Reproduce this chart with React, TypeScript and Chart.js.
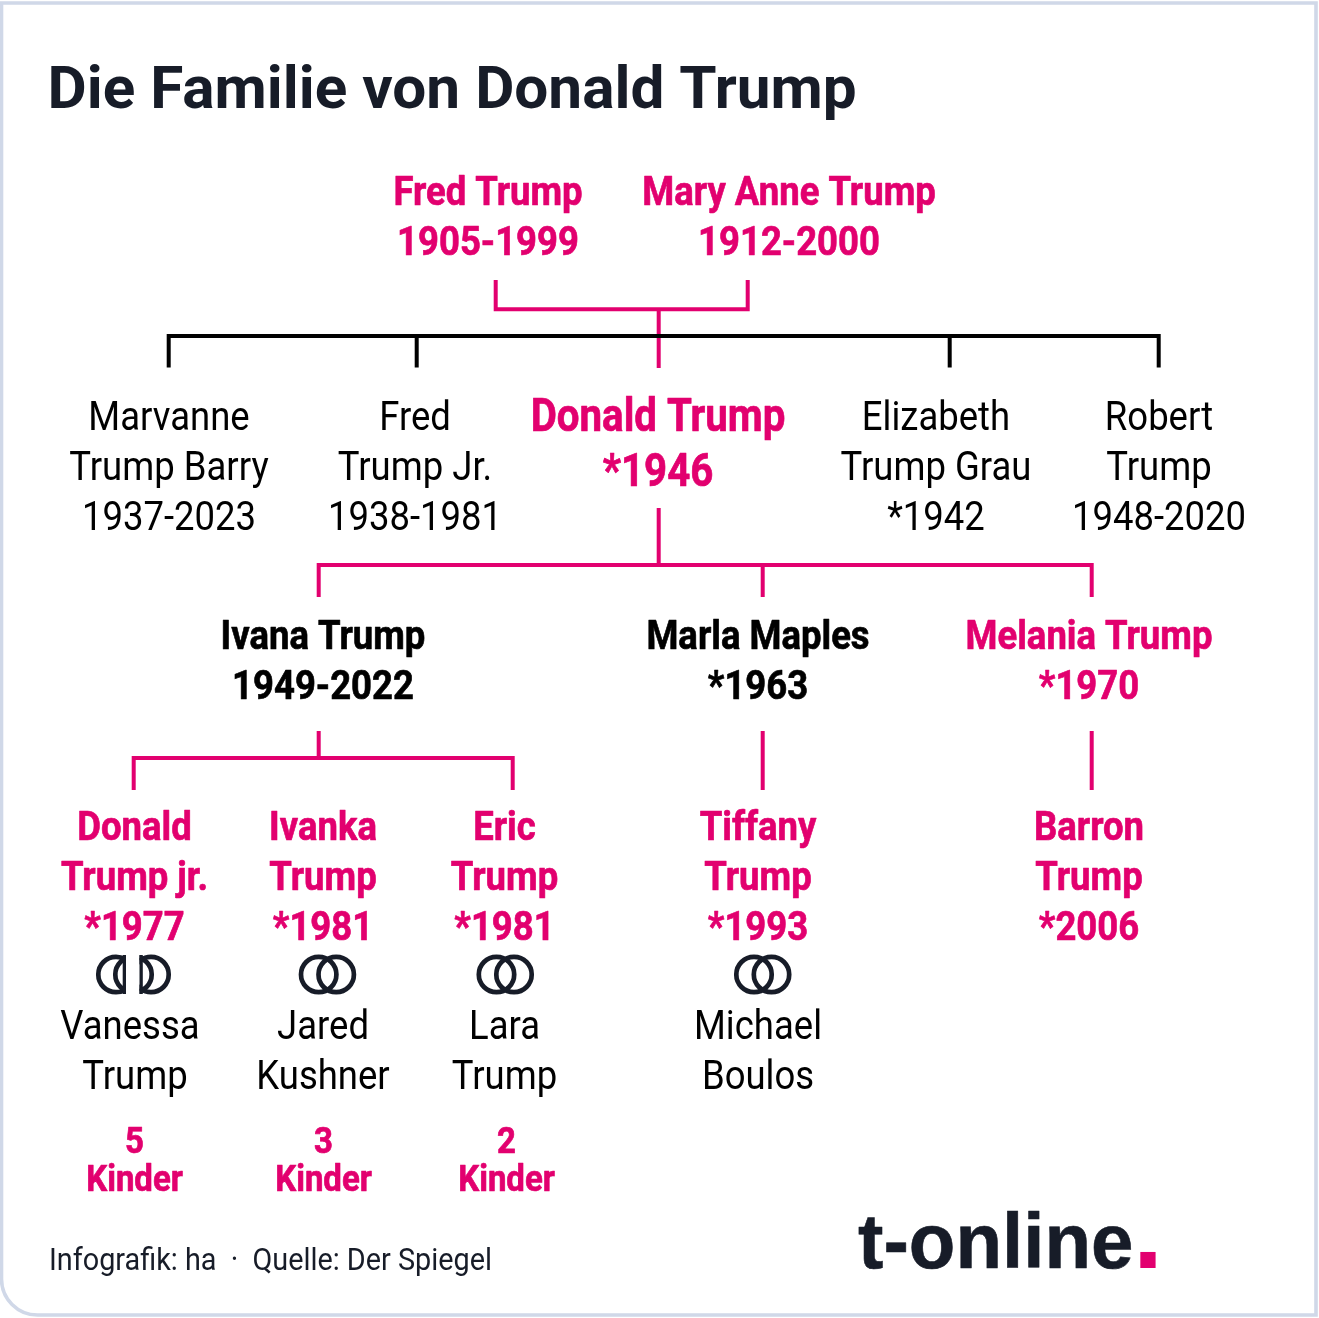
import React, { useEffect, useRef } from "react";
import { Chart, registerables } from "chart.js";

Chart.register(...registerables);

const PINK = "#e2006f";
const INK = "#171c28";
const BLACK = "#000000";
const EDGE = "#d0d8e8";

const title = "Die Familie von Donald Trump";
const footer = "Infografik: ha  ·  Quelle: Der Spiegel";
const brand = "t-online";

const grandparents = [["Fred Trump", "1905-1999"], ["Mary Anne Trump", "1912-2000"]];
const siblings = [["Marvanne", "Trump Barry", "1937-2023"], ["Fred", "Trump Jr.", "1938-1981"], ["Elizabeth", "Trump Grau", "*1942"], ["Robert", "Trump", "1948-2020"]];
const subject = ["Donald Trump", "*1946"];
const formerWives = [["Ivana Trump", "1949-2022"], ["Marla Maples", "*1963"]];
const currentWife = ["Melania Trump", "*1970"];
const children = [["Donald", "Trump jr.", "*1977"], ["Ivanka", "Trump", "*1981"], ["Eric", "Trump", "*1981"], ["Tiffany", "Trump", "*1993"], ["Barron", "Trump", "*2006"]];
const spouses = [["Vanessa"], ["Trump"], ["Jared", "Kushner"], ["Lara", "Trump"], ["Michael", "Boulos"]];
const kidCounts = [["5", "Kinder"], ["3", "Kinder"], ["2", "Kinder"]];

const blackLinks = [
  [[168.7, 367.5], [168.7, 336], [1158.7, 336], [1158.7, 367.5]],
  [[416.7, 336], [416.7, 367.5]],
  [[949.7, 336], [949.7, 367.5]],
];
const pinkLinks = [
  [[495.7, 280], [495.7, 309.3], [747.7, 309.3], [747.7, 280]],
  [[658.7, 309.3], [658.7, 368]],
  [[658.7, 508], [658.7, 565]],
  [[318.7, 597], [318.7, 565], [1091.7, 565], [1091.7, 597]],
  [[762.7, 565], [762.7, 597]],
  [[318.7, 731], [318.7, 758]],
  [[133.7, 790], [133.7, 758], [512.7, 758], [512.7, 790]],
  [[762.7, 731], [762.7, 790]],
  [[1091.7, 731], [1091.7, 790]],
];
const marriedRings = [[318.7, 974.5], [336.2, 974.5], [496.5, 974.5], [514, 974.5], [754, 974.5], [771.5, 974.5]];

type Block = { lines: string[]; x: number; y: number; step: number; size: number; weight: string; color: string; sx: number };

const BOLD = 0.89;
const REG = 0.89;
const blocks: Block[] = [
  { lines: grandparents[0], x: 488, y: 205, step: 49.5, size: 41, weight: "bold", color: PINK, sx: BOLD },
  { lines: grandparents[1], x: 789, y: 205, step: 49.5, size: 41, weight: "bold", color: PINK, sx: BOLD },
  { lines: siblings[0], x: 169, y: 430, step: 50, size: 41, weight: "normal", color: BLACK, sx: REG },
  { lines: siblings[1], x: 415, y: 430, step: 50, size: 41, weight: "normal", color: BLACK, sx: REG },
  { lines: siblings[2], x: 936, y: 430, step: 50, size: 41, weight: "normal", color: BLACK, sx: REG },
  { lines: siblings[3], x: 1159, y: 430, step: 50, size: 41, weight: "normal", color: BLACK, sx: REG },
  { lines: subject, x: 658, y: 431, step: 55, size: 46, weight: "bold", color: PINK, sx: 0.875 },
  { lines: formerWives[0], x: 323, y: 649, step: 50, size: 41, weight: "bold", color: BLACK, sx: BOLD },
  { lines: formerWives[1], x: 758, y: 649, step: 50, size: 41, weight: "bold", color: BLACK, sx: BOLD },
  { lines: currentWife, x: 1089, y: 649, step: 50, size: 41, weight: "bold", color: PINK, sx: BOLD },
  { lines: children[0], x: 134.5, y: 840, step: 50, size: 41, weight: "bold", color: PINK, sx: BOLD },
  { lines: children[1], x: 323, y: 840, step: 50, size: 41, weight: "bold", color: PINK, sx: BOLD },
  { lines: children[2], x: 504.5, y: 840, step: 50, size: 41, weight: "bold", color: PINK, sx: BOLD },
  { lines: children[3], x: 758, y: 840, step: 50, size: 41, weight: "bold", color: PINK, sx: BOLD },
  { lines: children[4], x: 1089, y: 840, step: 50, size: 41, weight: "bold", color: PINK, sx: BOLD },
  { lines: spouses[0], x: 130, y: 1039, step: 50, size: 41, weight: "normal", color: BLACK, sx: REG },
  { lines: spouses[1], x: 135, y: 1089, step: 50, size: 41, weight: "normal", color: BLACK, sx: REG },
  { lines: spouses[2], x: 323, y: 1039, step: 50, size: 41, weight: "normal", color: BLACK, sx: REG },
  { lines: spouses[3], x: 504.5, y: 1039, step: 50, size: 41, weight: "normal", color: BLACK, sx: REG },
  { lines: spouses[4], x: 758, y: 1039, step: 50, size: 41, weight: "normal", color: BLACK, sx: REG },
  { lines: kidCounts[0], x: 134.5, y: 1153, step: 38, size: 36, weight: "bold", color: PINK, sx: 0.916 },
  { lines: kidCounts[1], x: 323.5, y: 1153, step: 38, size: 36, weight: "bold", color: PINK, sx: 0.916 },
  { lines: kidCounts[2], x: 506.5, y: 1153, step: 38, size: 36, weight: "bold", color: PINK, sx: 0.916 },
];

const framePlugin = {
  id: "frame",
  beforeDatasetsDraw(chart: any) {
    const c = chart.ctx;
    c.save();
    c.strokeStyle = EDGE;
    c.lineWidth = 3.6;
    c.beginPath();
    c.roundRect(1.5, 3, 1314.5, 1312, [0, 0, 0, 36]);
    c.stroke();
    c.restore();
  },
};

const textPlugin = {
  id: "texts",
  afterDatasetsDraw(chart: any) {
    const c = chart.ctx;
    const xs = chart.scales.x;
    const ys = chart.scales.y;
    const put = (s: string, x: number, y: number, font: string, color: string, sx: number, align: CanvasTextAlign, heavy: number) => {
      c.save();
      c.translate(xs.getPixelForValue(x), ys.getPixelForValue(y));
      c.scale(sx, 1);
      c.font = font;
      c.fillStyle = color;
      c.textAlign = align;
      c.textBaseline = "alphabetic";
      c.fillText(s, 0, 0);
      if (heavy > 0) {
        c.strokeStyle = color;
        c.lineWidth = heavy;
        c.lineJoin = "round";
        c.strokeText(s, 0, 0);
      }
      c.restore();
    };
    put(title, 47.5, 108, "bold 60px Roboto", INK, 1.005, "left", 0);
    put(footer, 49, 1270, "normal 32px Roboto", INK, 0.9, "left", 0);
    put(brand, 858, 1268, "bold 78px 'Liberation Sans'", INK, 0.978, "left", 0.6);
    put(".", 1133, 1268, "bold 108px 'Liberation Sans'", PINK, 1, "left", 0);
    for (const b of blocks) {
      b.lines.forEach((s, i) =>
        put(s, b.x, b.y + i * b.step, `${b.weight} ${b.size}px Roboto`, b.color, b.sx, "center", b.weight === "bold" ? 0.7 : 0)
      );
    }
    // divorced couple: the pair of rings is split in two halves
    const ring = (cx: number, cy: number, r: number) => {
      c.beginPath();
      c.arc(xs.getPixelForValue(cx), ys.getPixelForValue(cy), r, 0, Math.PI * 2);
      c.stroke();
    };
    c.save();
    c.strokeStyle = INK;
    c.lineWidth = 4.7;
    c.save();
    c.beginPath();
    c.rect(90, 950, 36, 50);
    c.clip();
    ring(116, 974.5, 17.7);
    ring(133, 974.5, 17.7);
    c.restore();
    c.save();
    c.beginPath();
    c.rect(139.5, 950, 36, 50);
    c.clip();
    ring(134, 974.5, 17.7);
    ring(151, 974.5, 17.7);
    c.restore();
    c.fillStyle = INK;
    c.fillRect(122.7, 955, 3.3, 39);
    c.fillRect(139.5, 955, 3.3, 39);
    c.restore();
  },
};

export default function App() {
  const ref = useRef<HTMLCanvasElement>(null);
  useEffect(() => {
    document.body.style.margin = "0";
    document.body.style.background = "#fff";
    const line = (pts: number[][], color: string) => ({
      data: pts.map(([x, y]) => ({ x, y })),
      showLine: true,
      borderColor: color,
      borderWidth: 4,
      borderCapStyle: "butt",
      borderJoinStyle: "miter",
      pointRadius: 0,
      tension: 0,
      fill: false,
    });
    const chart = new Chart(ref.current!, {
      type: "scatter",
      data: {
        datasets: [
          ...blackLinks.map((p) => line(p, BLACK)),
          ...pinkLinks.map((p) => line(p, PINK)),
          {
            data: marriedRings.map(([x, y]) => ({ x, y })),
            showLine: false,
            pointStyle: "circle",
            pointRadius: 17.7,
            pointBorderWidth: 4.7,
            pointBorderColor: INK,
            pointBackgroundColor: "rgba(0,0,0,0)",
          },
        ] as any,
      },
      options: {
        animation: false,
        responsive: false,
        layout: { padding: 0, autoPadding: false },
        events: [],
        scales: {
          x: { type: "linear", min: 0, max: 1319, display: false },
          y: { type: "linear", min: 0, max: 1318, reverse: true, display: false },
        },
        plugins: { legend: { display: false }, tooltip: { enabled: false } },
      },
      plugins: [framePlugin, textPlugin],
    });
    return () => chart.destroy();
  }, []);
  return (
    <div style={{ position: "absolute", left: 0, top: 0, width: 1319, height: 1318 }}>
      <canvas ref={ref} width={1319} height={1318} style={{ display: "block" }} />
    </div>
  );
}
